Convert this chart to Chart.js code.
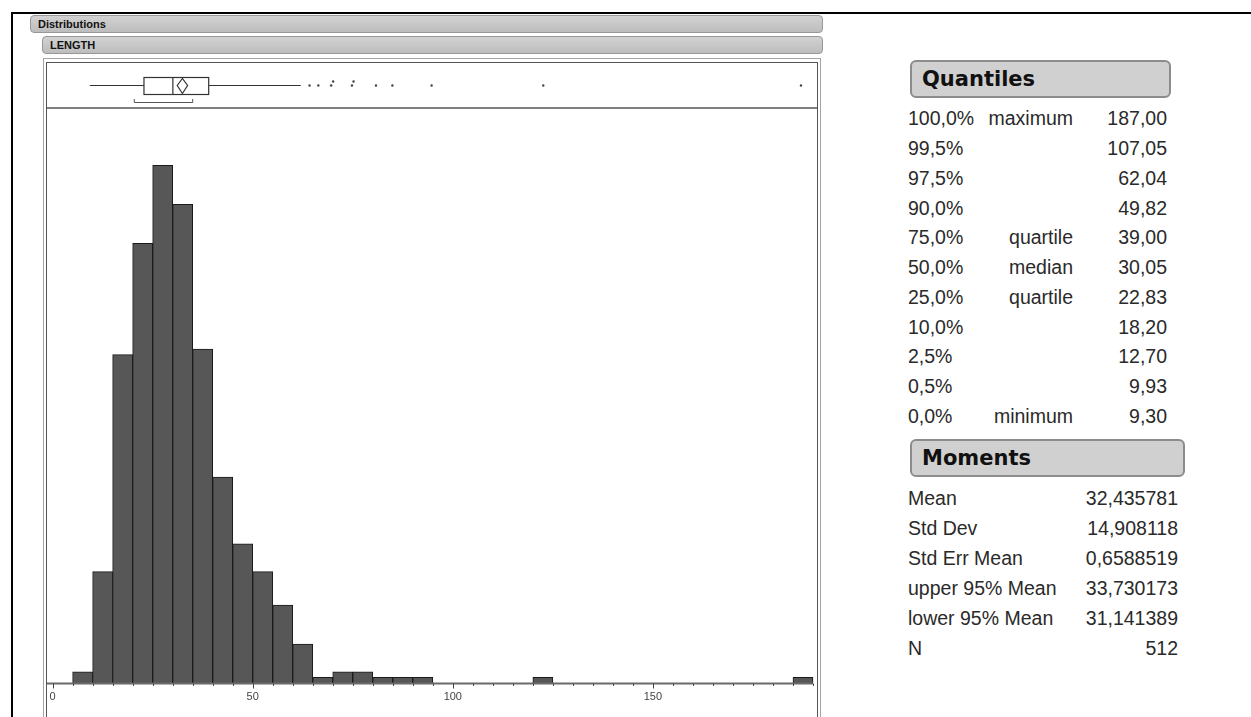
<!DOCTYPE html>
<html>
<head>
<meta charset="utf-8">
<script src="https://cdn.jsdelivr.net/npm/chart.js@4.4.1/dist/chart.umd.min.js"></script>
<style>
  body { margin: 0; background: #fff; width: 1251px; height: 717px; overflow: hidden; position: relative;
         font-family: "Liberation Sans", Arial, sans-serif; }
  .line { position: absolute; background: #000; }
  .bar { position: absolute; box-sizing: border-box; background: linear-gradient(#d2d2d2, #bdbdbd);
         border: 1px solid #989898; border-radius: 4px; padding-left: 7px; color: #111;
         font: bold 11px "Liberation Sans Narrow", "Liberation Sans", sans-serif; line-height: 16px; }
  .frame { position: absolute; box-sizing: border-box; border-bottom: none; }
  .hdr { position: absolute; box-sizing: border-box; background: #d0d0d0; border: 2px solid #8c8c8c;
         border-radius: 6px; padding-left: 10px; color: #111; font: bold 21px "DejaVu Sans", sans-serif; }
  .cell { position: absolute; font-size: 19.5px; line-height: 22px; color: #2a2a2a; white-space: nowrap; }
  .r { text-align: right; width: 200px; }
  canvas { position: absolute; left: 47px; top: 63px; }
</style>
</head>
<body>
<div class="line" style="left:11px;top:12px;width:1240px;height:2px"></div>
<div class="line" style="left:11px;top:12px;width:2px;height:705px"></div>

<div class="bar" style="left:30px;top:15px;width:793px;height:18px">Distributions</div>
<div class="bar" style="left:42px;top:36px;width:781px;height:18px">LENGTH</div>

<div class="frame" style="left:43px;top:58px;width:778px;height:700px;border:1.5px solid #a4a4a4;border-bottom:none"></div>
<div class="frame" style="left:46px;top:62px;width:772px;height:700px;border:1px solid #555;border-bottom:none"></div>

<canvas id="hist" width="770" height="654"></canvas>

<div class="hdr" style="left:910px;top:60px;width:261px;height:38px;line-height:34px">Quantiles</div>
<div class="hdr" style="left:910px;top:439px;width:275px;height:38px;line-height:34px">Moments</div>
<div id="tables"></div>

<script>
// histogram bins (lower edge, width 5) and counts
const binWidth = 5;
const binStart = [5, 10, 15, 20, 25, 30, 35, 40, 45, 50, 55, 60, 65, 70, 75, 80, 85, 90, 120, 185];
const binCount = [2, 20, 59, 79, 93, 86, 60, 37, 25, 20, 14, 7, 1, 2, 2, 1, 1, 1, 1, 1];

// axis labels
const majorTicks = [0, 50, 100, 150];

// outlier box plot
const whiskerEnds = [9.30, 62.0];
const boxQuartiles = [22.83, 30.05, 39.00];
const meanCI = [31.141389, 32.435781, 33.730173];
const shortestHalf = [20.4, 35.0];
const outliers = [64.2, 66.4, 69.6, 70.1, 74.8, 75.2, 80.8, 84.9, 94.7, 122.6, 187.0];

// quantiles table
const qPct = ["100,0%", "99,5%", "97,5%", "90,0%", "75,0%", "50,0%", "25,0%", "10,0%", "2,5%", "0,5%", "0,0%"];
const qLabel = ["maximum", "", "", "", "quartile", "median", "quartile", "", "", "", "minimum"];
const qValue = ["187,00", "107,05", "62,04", "49,82", "39,00", "30,05", "22,83", "18,20", "12,70", "9,93", "9,30"];

// moments table
const mLabel = ["Mean", "Std Dev", "Std Err Mean", "upper 95% Mean", "lower 95% Mean", "N"];
const mValue = ["32,435781", "14,908118", "0,6588519", "33,730173", "31,141389", "512"];

// tables
const tables = document.getElementById("tables");
function cell(text, top, left, right) {
    const d = document.createElement("div");
    d.className = right ? "cell r" : "cell";
    d.style.top = top + "px";
    d.style.left = (right ? left - 200 : left) + "px";
    d.textContent = text;
    tables.appendChild(d);
}
qPct.forEach((p, i) => {
    const top = 118.3 + i * 29.75 - 11;
    cell(p, top, 908, false);
    cell(qLabel[i], top, 1073, true);
    cell(qValue[i], top, 1167, true);
});
mLabel.forEach((l, i) => {
    const top = 498 + i * 30 - 11;
    cell(l, top, 908, false);
    cell(mValue[i], top, 1178, true);
});

const minorTicks = [];
for (let v = 0; v <= 190; v += binWidth) minorTicks.push(v);

// axis line, tick marks, separator and the outlier box plot
const extras = {
    id: "extras",
    afterDatasetsDraw(chart) {
        const { ctx, chartArea } = chart;
        const x = chart.scales.x;
        const px = v => x.getPixelForValue(v);
        ctx.save();

        // separator under the box plot
        ctx.strokeStyle = "#555";
        ctx.lineWidth = 1.5;
        ctx.beginPath();
        ctx.moveTo(0, chartArea.top);
        ctx.lineTo(chart.width, chartArea.top);
        ctx.stroke();

        // axis
        const ay = chartArea.bottom + 0.5;
        ctx.strokeStyle = "#6a6a6a";
        ctx.lineWidth = 2;
        ctx.beginPath();
        ctx.moveTo(chartArea.left, ay);
        ctx.lineTo(px(190), ay);
        ctx.stroke();
        ctx.lineWidth = 1;
        ctx.strokeStyle = "#444";
        minorTicks.forEach(v => {
            const len = majorTicks.includes(v) ? 5 : 2.5;
            const p = Math.round(px(v)) + 0.5;
            ctx.beginPath();
            ctx.moveTo(p, ay);
            ctx.lineTo(p, ay + len);
            ctx.stroke();
        });

        // box plot
        const cy = 22.5, top = 14.5, bot = 31.5;
        ctx.strokeStyle = "#333";
        ctx.lineWidth = 1.2;
        ctx.beginPath();
        ctx.moveTo(px(whiskerEnds[0]), cy);
        ctx.lineTo(px(boxQuartiles[0]), cy);
        ctx.moveTo(px(boxQuartiles[2]), cy);
        ctx.lineTo(px(whiskerEnds[1]), cy);
        ctx.stroke();
        ctx.fillStyle = "#fff";
        ctx.fillRect(px(boxQuartiles[0]), top, px(boxQuartiles[2]) - px(boxQuartiles[0]), bot - top);
        ctx.strokeRect(px(boxQuartiles[0]), top, px(boxQuartiles[2]) - px(boxQuartiles[0]), bot - top);
        ctx.beginPath();
        ctx.moveTo(px(boxQuartiles[1]), top);
        ctx.lineTo(px(boxQuartiles[1]), bot);
        ctx.stroke();
        // mean diamond
        ctx.beginPath();
        ctx.moveTo(px(meanCI[0]), cy);
        ctx.lineTo(px(meanCI[1]), top + 1);
        ctx.lineTo(px(meanCI[2]), cy);
        ctx.lineTo(px(meanCI[1]), bot - 1);
        ctx.closePath();
        ctx.stroke();
        // shortest half bracket
        ctx.strokeStyle = "#555";
        ctx.lineWidth = 1;
        ctx.beginPath();
        ctx.moveTo(px(shortestHalf[0]), 36);
        ctx.lineTo(px(shortestHalf[0]), 39.5);
        ctx.lineTo(px(shortestHalf[1]), 39.5);
        ctx.lineTo(px(shortestHalf[1]), 36);
        ctx.stroke();
        // outliers
        ctx.fillStyle = "#444";
        let prev = -99;
        outliers.forEach(v => {
            const y = (v - prev < 1) ? cy - 4 : cy;
            ctx.beginPath();
            ctx.arc(px(v), y, 1.2, 0, Math.PI * 2);
            ctx.fill();
            prev = v;
        });
        ctx.restore();
    }
};

new Chart(document.getElementById("hist").getContext("2d"), {
    type: "bar",
    data: {
        datasets: [{
            data: binStart.map((s, i) => ({ x: s + binWidth / 2, y: binCount[i] })),
            backgroundColor: "#575757",
            borderColor: "#1a1a1a",
            borderWidth: 1,
            barPercentage: 1,
            categoryPercentage: 1,
            grouped: false
        }]
    },
    options: {
        responsive: false,
        animation: false,
        devicePixelRatio: 1,
        layout: { padding: { top: 45, left: 0, right: 0, bottom: 0 } },
        plugins: { legend: { display: false }, tooltip: { enabled: false } },
        scales: {
            x: {
                type: "linear",
                offset: false,
                min: -1.4,
                max: 191,
                grid: { display: false, drawTicks: false, offset: false },
                border: { display: false },
                afterBuildTicks: s => { s.ticks = minorTicks.map(v => ({ value: v })); },
                afterFit: s => { s.height = 34; s.paddingLeft = 0; s.paddingRight = 0; },
                ticks: {
                    autoSkip: false,
                    maxRotation: 0,
                    padding: 7,
                    color: "#444",
                    font: { size: 11, family: "Liberation Sans" },
                    callback: v => majorTicks.includes(v) ? String(v) : ""
                }
            },
            y: { display: false, min: 0, max: 103.3 }
        }
    },
    plugins: [extras]
});
</script>
</body>
</html>
